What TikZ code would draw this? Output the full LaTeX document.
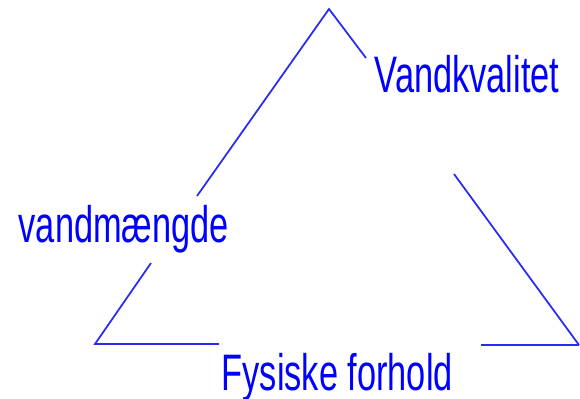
\documentclass[tikz,border=0pt]{standalone}
\usepackage{fontspec}
\usetikzlibrary{positioning, calc}
\newfontfamily\smalfont[FakeStretch=0.67]{Liberation Sans}
\definecolor{klarblaa}{HTML}{0000FF}
\definecolor{stregblaa}{HTML}{2A2AF0}

\begin{document}
\begin{tikzpicture}
          \useasboundingbox (0,0) rectangle (5.80,3.98);
          \tikzset{side/.style={draw=stregblaa, line width=0.5pt},
                   etiket/.style={text=klarblaa, inner sep=0pt, anchor=base west, font=\smalfont\fontsize{14.6}{17}\selectfont}}
          % Hjoerner og brud
          \coordinate (top) at (3.29,3.89);
          \coordinate (hv) at (0.95,0.54);
          \coordinate (hh) at (5.79,0.53);
          \coordinate (hoejreA) at (3.66,3.40);
          \coordinate (hoejreB) at (4.54,2.24);
          \coordinate (venstreA) at (1.97,2.02);
          \coordinate (venstreB) at (1.51,1.35);
          \coordinate (bundA) at (2.19,0.54);
          \coordinate (bundB) at (4.81,0.53);
          % Etiketter
          \node[etiket] (kvalitet) at (3.74,3.06) {Vandkvalitet};
          \node[etiket] (maengde) at (0.18,1.55) {vandmængde};
          \node[etiket] (fysisk) at (2.21,0.08) {Fysiske forhold};
          % Trekantens sider
          \draw[side] (venstreA) -- (top) -- (hoejreA);
          \draw[side] (hoejreB) -- (hh);
          \draw[side] (bundB) -- (hh);
          \draw[side] (venstreB) -- (hv) -- (bundA);
        \end{tikzpicture}
\end{document}
